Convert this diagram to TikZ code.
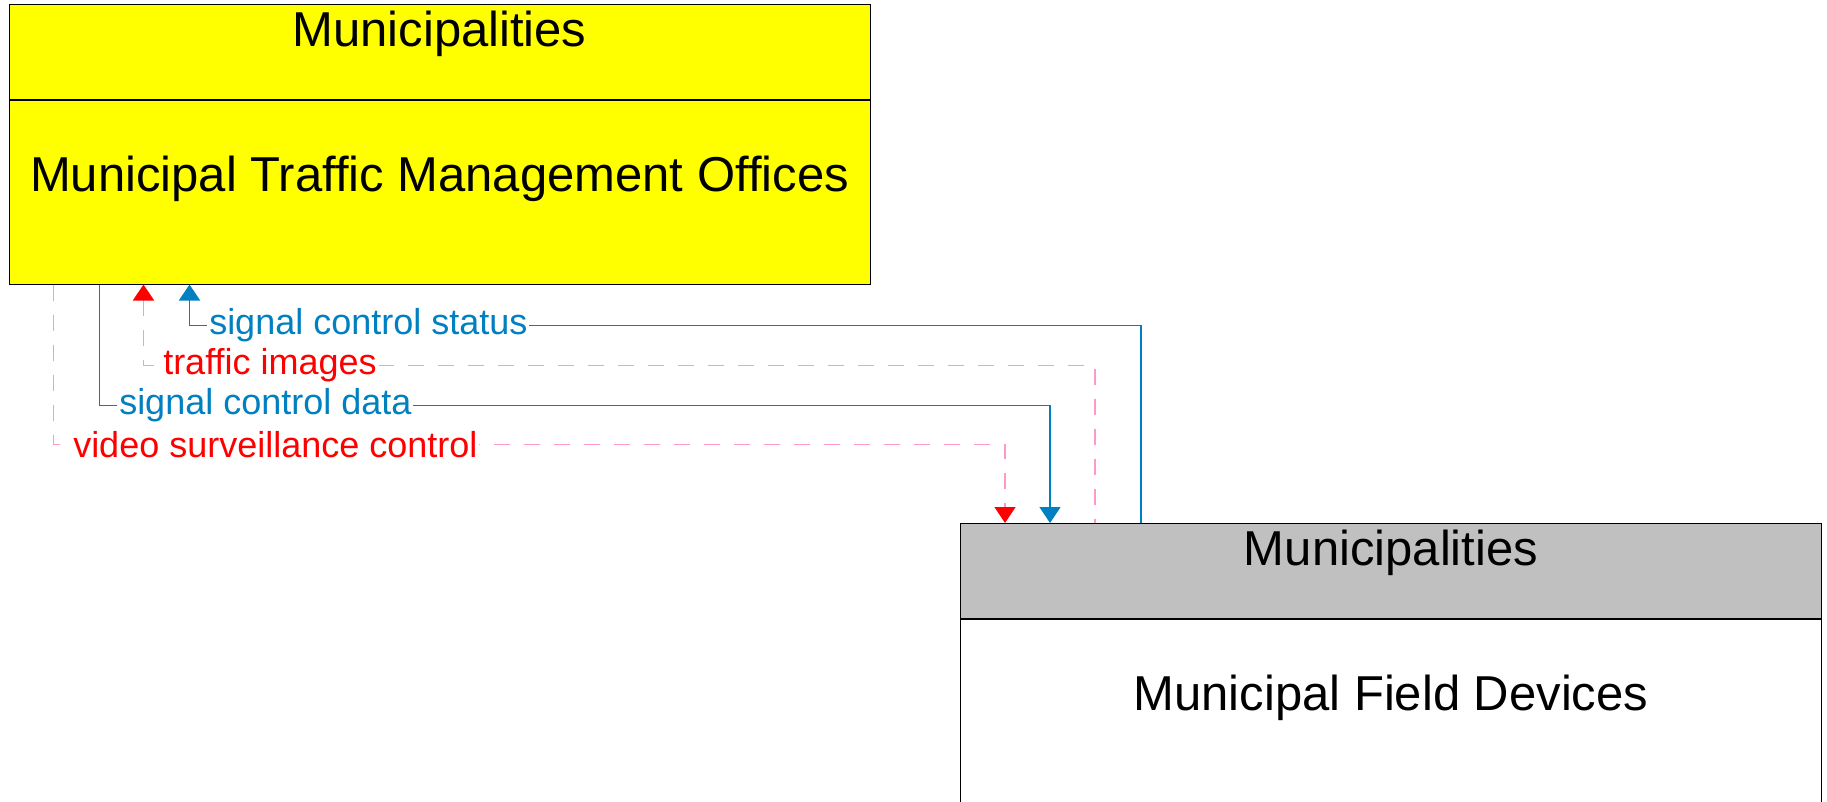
\documentclass[tikz,border=0pt]{standalone}
\usepackage{fontspec}
\setmainfont{Liberation Sans}
\usepackage{xcolor}
\usetikzlibrary{arrows.meta, positioning}

\definecolor{flowblue}{RGB}{0,128,192}
\definecolor{flowpink}{RGB}{255,153,204}
\definecolor{headgray}{RGB}{192,192,192}
\definecolor{orgyellow}{RGB}{255,255,0}

\begin{document}
\begin{tikzpicture}[
    x=1pt, y=-1pt,
    every node/.style={font=\fontsize{49}{58}\selectfont},
    headbox/.style={
        draw=black,
        line width=1pt,
        minimum width=861pt,
        minimum height=95pt,
        inner sep=0pt,
        text height=36pt,
        text depth=47pt
    },
    bodybox/.style={
        draw=black,
        line width=1pt,
        minimum width=861pt,
        minimum height=183pt,
        inner sep=0pt,
        text height=36pt,
        text depth=37pt
    },
    flowtext/.style={
        font=\fontsize{36}{43}\selectfont,
        fill=white,
        inner sep=2pt,
        anchor=west,
        xshift=17pt
    },
    blueflow/.style={flowblue, line width=1.5pt, >={Triangle[width=21pt,length=16pt]}},
    pinkflow/.style={flowpink, line width=1.5pt, dash pattern=on 16pt off 14pt,
        >={Triangle[width=21pt,length=16pt,color=red]}}
]
\useasboundingbox (0,0) rectangle (1827,802);

% traffic management center
\node[headbox, fill=orgyellow] (tmcHead) at (439.5,52.5) {Municipalities};
\node[bodybox, fill=orgyellow, below=0pt of tmcHead] (tmcBody) {Municipal Traffic Management Offices};

% field equipment
\node[headbox, fill=headgray] (fldHead) at (1391,571) {Municipalities};
\node[bodybox, fill=white, below=0pt of fldHead] (fldBody) {Municipal Field Devices};

% flows
\draw[blueflow, <-] ([xshift=181pt]tmcBody.south west) -- ++(0,41)
    node[flowtext, text=flowblue] {signal control status} -| ([xshift=181pt]fldHead.north west);
\draw[pinkflow, <-] ([xshift=135pt]tmcBody.south west) -- ++(0,81)
    node[flowtext, text=red] {traffic images} -| ([xshift=135pt]fldHead.north west);
\draw[blueflow, ->] ([xshift=91pt]tmcBody.south west) -- ++(0,121)
    node[flowtext, text=flowblue] {signal control data} -| ([xshift=90pt]fldHead.north west);
\draw[pinkflow, ->] ([xshift=45pt]tmcBody.south west) -- ++(0,160)
    node[flowtext, text=red] {video surveillance control} -| ([xshift=45pt]fldHead.north west);

\end{tikzpicture}
\end{document}
